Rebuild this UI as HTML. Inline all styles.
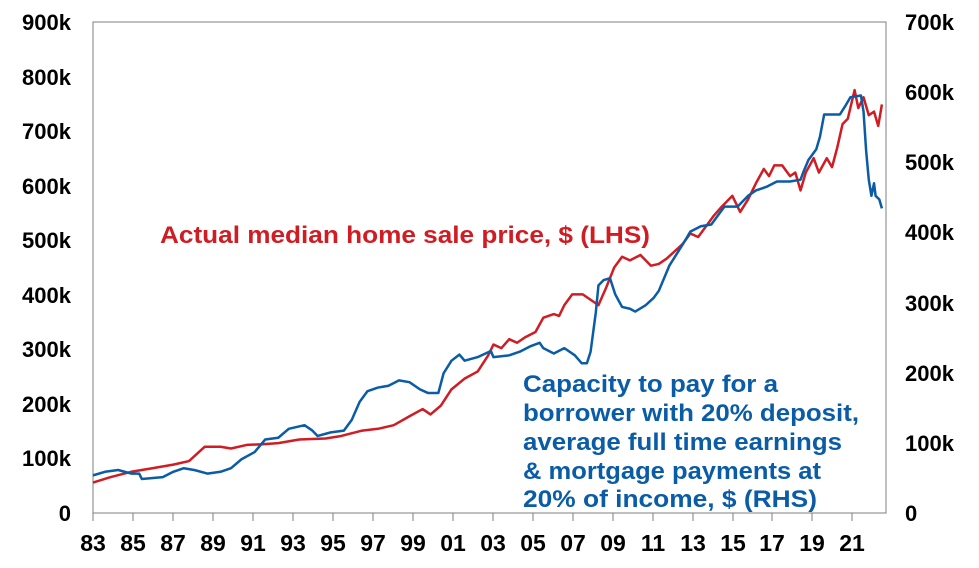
<!DOCTYPE html>
<html><head><style>
body{margin:0;background:#fff;}
svg text{font-family:"Liberation Sans",Arial,sans-serif;font-weight:bold;}
</style></head><body>
<svg width="979" height="563" xmlns="http://www.w3.org/2000/svg">
<rect x="93" y="22" width="793" height="491" fill="none" stroke="#7f7f7f" stroke-width="1"/>
<g font-size="22" fill="#000" text-anchor="end">
<text x="71" y="30">900k</text><text x="71" y="85">800k</text><text x="71" y="139">700k</text><text x="71" y="194">600k</text><text x="71" y="248">500k</text><text x="71" y="303">400k</text><text x="71" y="357">300k</text><text x="71" y="412">200k</text><text x="71" y="466">100k</text><text x="71" y="521">0</text>
</g>
<g font-size="22" fill="#000" text-anchor="start">
<text x="905" y="30">700k</text><text x="905" y="100">600k</text><text x="905" y="170">500k</text><text x="905" y="240">400k</text><text x="905" y="311">300k</text><text x="905" y="381">200k</text><text x="905" y="451">100k</text><text x="905" y="521">0</text>
</g>
<g stroke="#7f7f7f" stroke-width="1">
<path d="M93 513v8M133 513v8M173 513v8M213 513v8M253 513v8M293 513v8M333 513v8M373 513v8M413 513v8M453 513v8M493 513v8M533 513v8M573 513v8M613 513v8M653 513v8M693 513v8M733 513v8M772 513v8M812 513v8M852 513v8"/>
</g>
<g font-size="23" fill="#000" text-anchor="middle">
<text x="93" y="551">83</text><text x="133" y="551">85</text><text x="173" y="551">87</text><text x="213" y="551">89</text><text x="253" y="551">91</text><text x="293" y="551">93</text><text x="333" y="551">95</text><text x="373" y="551">97</text><text x="413" y="551">99</text><text x="453" y="551">01</text><text x="493" y="551">03</text><text x="533" y="551">05</text><text x="573" y="551">07</text><text x="613" y="551">09</text><text x="653" y="551">11</text><text x="693" y="551">13</text><text x="733" y="551">15</text><text x="772" y="551">17</text><text x="812" y="551">19</text><text x="852" y="551">21</text>
</g>
<svg x="78.8" y="0.5" width="813.6" height="554.8" viewBox="0 0 1550 1548" preserveAspectRatio="none">
<polyline fill="none" stroke="#d01c23" stroke-width="2.5" vector-effect="non-scaling-stroke" stroke-linejoin="round" points="27,1345 60,1330 100,1315 140,1305 180,1295 210,1285 240,1245 270,1245 290,1250 320,1240 350,1238 380,1235 420,1225 470,1222 500,1215 540,1200 570,1195 600,1185 630,1160 655,1140 670,1155 690,1130 710,1085 735,1055 760,1035 780,990 790,960 805,970 820,945 835,955 850,940 870,925 885,885 905,875 915,880 925,850 940,820 960,820 975,835 990,850 1005,800 1020,745 1035,715 1050,725 1070,710 1090,740 1105,735 1120,720 1135,700 1150,680 1165,650 1180,660 1195,630 1210,600 1225,575 1245,545 1260,590 1275,555 1290,510 1305,470 1315,490 1325,460 1340,460 1355,490 1365,480 1375,530 1385,480 1400,440 1410,480 1425,440 1435,465 1445,410 1455,345 1465,330 1478,250 1485,300 1495,270 1505,320 1515,310 1523,350 1530,290"/>
<polyline fill="none" stroke="#0a5ca6" stroke-width="2.5" vector-effect="non-scaling-stroke" stroke-linejoin="round" points="27,1325 50,1315 75,1310 100,1320 115,1320 120,1335 160,1330 180,1315 200,1305 220,1310 245,1320 270,1315 290,1305 310,1280 335,1260 355,1225 380,1220 400,1195 430,1185 445,1200 455,1215 480,1205 505,1200 520,1170 535,1120 550,1090 570,1080 590,1075 610,1060 630,1065 650,1085 665,1095 685,1095 695,1040 710,1005 725,988 735,1005 760,995 785,978 790,995 820,990 840,980 860,965 878,955 885,970 905,985 925,970 945,990 958,1012 968,1012 975,980 985,870 990,795 1000,780 1012,775 1022,820 1035,855 1050,860 1060,868 1080,850 1095,830 1105,810 1115,775 1125,740 1140,705 1155,670 1165,645 1185,630 1205,625 1220,595 1230,575 1255,575 1265,560 1275,545 1290,530 1310,520 1330,505 1355,505 1375,500 1380,480 1390,445 1405,415 1412,380 1420,318 1450,318 1460,295 1470,270 1490,265 1495,310 1500,420 1505,500 1510,545 1515,510 1518,545 1525,555 1530,580"/>
</svg>
<text x="160" y="243" font-size="24" fill="#d01c23" textLength="490" lengthAdjust="spacingAndGlyphs">Actual median home sale price, $ (LHS)</text>
<g font-size="24" fill="#0a5ca6" lengthAdjust="spacingAndGlyphs">
<text x="523" y="392" textLength="255" lengthAdjust="spacingAndGlyphs">Capacity to pay for a</text>
<text x="523" y="421" textLength="336" lengthAdjust="spacingAndGlyphs">borrower with 20% deposit,</text>
<text x="523" y="450" textLength="319" lengthAdjust="spacingAndGlyphs">average full time earnings</text>
<text x="523" y="479" textLength="298" lengthAdjust="spacingAndGlyphs">&amp; mortgage payments at</text>
<text x="523" y="507" textLength="294" lengthAdjust="spacingAndGlyphs">20% of income, $ (RHS)</text>
</g>
</svg>
</body></html>
